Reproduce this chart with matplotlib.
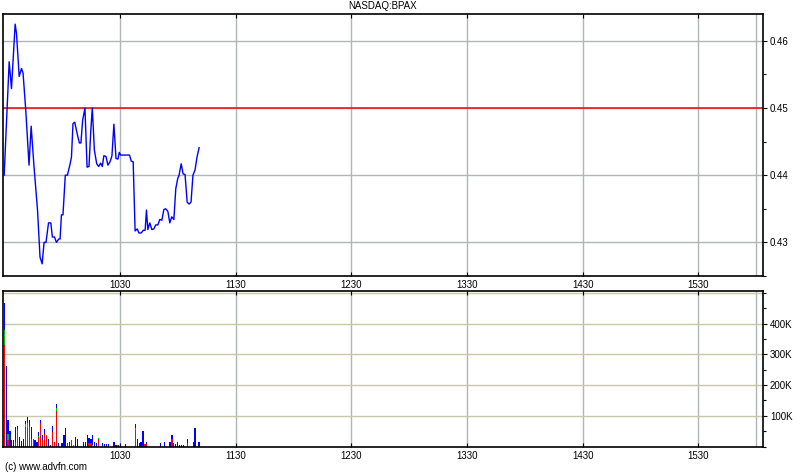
import matplotlib
matplotlib.use('Agg')
import matplotlib.pyplot as plt
import numpy as np
from matplotlib.ticker import FixedLocator, MultipleLocator, FuncFormatter

plt.rcParams['font.family'] = ['Liberation Sans', 'DejaVu Sans']

# ---------------- data ----------------
title = 'NASDAQ:BPAX'
prev_close = 0.45

# minutes after 09:30
price_minutes = [0.0, 2.6, 3.8, 5.7, 6.4, 7.8, 9.0, 9.8, 11.2, 12.9, 14.0, 15.5, 17.3, 18.6,
                 19.7, 20.7, 21.7, 23.0, 24.2, 25.0, 26.1, 27.1, 28.3, 29.0, 29.7, 30.5,
                 31.7, 32.8, 34.2, 34.9, 35.7, 36.6, 38.0, 39.0, 39.8, 40.7, 41.9, 43.0,
                 44.0, 44.9, 45.7, 46.8, 48.0, 49.0, 50.0, 50.9, 51.7, 52.8, 53.8, 54.9,
                 55.9, 56.9, 58.0, 59.0, 59.7, 60.4, 65.0, 65.9, 66.9, 67.9, 69.0, 69.9,
                 71.1, 72.1, 73.1, 73.8, 74.5, 75.5, 76.6, 77.6, 78.6, 79.7, 80.7, 81.8,
                 82.8, 83.8, 84.9, 85.9, 86.9, 88.0, 89.0, 90.0, 90.7, 91.8, 92.8, 93.8,
                 94.9, 95.9, 96.9, 97.9, 99.0, 100.0, 101.1]
price_values = [0.4400, 0.4569, 0.4529, 0.4625, 0.4611, 0.4547, 0.4559, 0.4552, 0.4497,
                0.4415, 0.4473, 0.4412, 0.4348, 0.4278, 0.4268, 0.4300, 0.4300, 0.4329,
                0.4329, 0.4308, 0.4308, 0.4300, 0.4305, 0.4305, 0.4341, 0.4341, 0.4400,
                0.4400, 0.4417, 0.4427, 0.4477, 0.4479, 0.4460, 0.4448, 0.4448, 0.4482,
                0.4500, 0.4412, 0.4413, 0.4465, 0.4500, 0.4437, 0.4417, 0.4413, 0.4418,
                0.4413, 0.4429, 0.4428, 0.4415, 0.4420, 0.4429, 0.4476, 0.4425, 0.4424,
                0.4434, 0.4430, 0.4430, 0.4421, 0.4420, 0.4317, 0.4320, 0.4314, 0.4314,
                0.4318, 0.4318, 0.4348, 0.4319, 0.4329, 0.4319, 0.4320, 0.4326, 0.4326,
                0.4334, 0.4333, 0.4349, 0.4350, 0.4346, 0.4329, 0.4338, 0.4334, 0.4380,
                0.4395, 0.4400, 0.4417, 0.4402, 0.4401, 0.4360, 0.4357, 0.4360, 0.4400,
                0.4408, 0.4427, 0.4441]

# volume per minute (thousands of shares), stacked red / green / blue
vol_minutes = [0, 1, 2, 3, 4, 5, 6, 7, 8, 9, 10, 11, 12, 13, 14, 15, 16, 17, 18, 19, 20,
               21, 22, 23, 24, 25, 26, 27, 28, 30, 31, 32, 33, 34, 35, 36, 37, 38, 41, 42,
               43, 44, 45, 46, 47, 48, 49, 51, 52, 53, 54, 57, 58, 59, 63, 68, 69, 70, 71,
               72, 73, 74, 81, 83, 86, 87, 88, 89, 90, 91, 92, 93, 95, 98, 99, 101]
vol_red = [332, 0, 20, 0, 0, 0, 15, 58, 0, 0, 0, 63, 65, 68, 25, 25, 0, 0, 30, 77, 20,
           41, 33, 0, 0, 47, 16, 117, 0, 0, 0, 0, 11, 6, 20, 0, 0, 0, 0, 0,
           0, 10, 12, 0, 0, 0, 24, 0, 0, 0, 0, 0, 0, 4, 0, 54, 0, 0, 0,
           0, 9, 7, 0, 0, 0, 25, 0, 0, 0, 0, 0, 0, 10, 0, 0, 0]
vol_green = [49, 0, 20, 0, 0, 0, 0, 0, 0, 0, 0, 11, 10, 0, 0, 0, 0, 0, 5, 0, 0,
             0, 6, 0, 0, 0, 0, 8, 0, 0, 0, 0, 0, 0, 0, 6, 0, 0, 0, 0,
             0, 0, 0, 4, 0, 0, 3, 0, 0, 0, 0, 0, 0, 0, 0, 5, 0, 0, 0,
             0, 0, 0, 0, 0, 0, 0, 0, 0, 0, 0, 0, 0, 0, 0, 0, 0]
vol_blue = [88, 261, 45, 52, 22, 20, 48, 10, 30, 17, 23, 8, 20, 20, 40, 0, 20, 15, 12, 11, 19,
            17, 0, 23, 5, 21, 0, 12, 13, 10, 36, 61, 0, 10, 0, 0, 30, 23, 14, 16,
            39, 17, 12, 32, 14, 11, 0, 11, 7, 7, 7, 14, 5, 0, 7, 13, 26, 11, 14,
            50, 0, 7, 10, 16, 14, 11, 11, 9, 14, 5, 5, 5, 13, 14, 60, 14]

tick_minutes = [60, 120, 180, 240, 300, 360]
tick_labels = ['1030', '1130', '1230', '1330', '1430', '1530']
close_minute = 390
x_min, x_max = -0.6, 393.5
price_ticks = [0.43, 0.44, 0.45, 0.46]
vol_ticks = [100, 200, 300, 400]
vol_grid = [100, 200, 300, 400, 500]

# ---------------- drawing ----------------
W, H = 800, 475
fig = plt.figure(figsize=(W / 100, H / 100), dpi=100)
fig.patch.set_facecolor('white')

ax1 = fig.add_axes([3 / W, 1 - 276 / H, 760 / W, 262 / H])
ax2 = fig.add_axes([3 / W, 1 - 446.5 / H, 760 / W, 155.5 / H])

grid_c = '#b0b6b6'
vgrid_c = '#c8c8a8'

for ax in (ax1, ax2):
    ax.set_xlim(x_min, x_max)
    for m in tick_minutes + [close_minute]:
        ax.axvline(m, color=grid_c, lw=1, zorder=0)
    ax.set_xticks(tick_minutes)
    ax.set_xticklabels(tick_labels)
    ax.tick_params(axis='x', direction='in', length=3, width=0.8, labelsize=7,
                   pad=3, top=True, bottom=True, colors='black')
    ax.yaxis.tick_right()
    ax.tick_params(axis='y', which='both', direction='out', width=0.8, labelsize=7,
                   pad=2, left=False, right=True)
    ax.tick_params(axis='y', which='major', length=3)
    ax.tick_params(axis='y', which='minor', length=2)
    for s in ax.spines.values():
        s.set_color('black')
        s.set_linewidth(1.2)

# price panel
ax1.set_ylim(0.42499, 0.46401)
for p in price_ticks:
    ax1.axhline(p, color=grid_c, lw=1, zorder=0)
ax1.axhline(prev_close, color='#ff0000', lw=1.1, zorder=2)
ax1.plot(price_minutes, price_values, color='#0000ff', lw=1.0, zorder=3)
ax1.yaxis.set_major_locator(FixedLocator(price_ticks))
ax1.yaxis.set_minor_locator(MultipleLocator(0.005))
ax1.yaxis.set_major_formatter(FuncFormatter(lambda v, p: f'{v:.2f}'))
ax1.text(0.5, 1.01, title, transform=ax1.transAxes, ha='center', va='bottom', fontsize=7)

# volume panel
vm = np.array(vol_minutes, dtype=float)
vr = np.array(vol_red, dtype=float) * 1000
vg = np.array(vol_green, dtype=float) * 1000
vb = np.array(vol_blue, dtype=float) * 1000
ax2.set_ylim(0, 507000)
for v in vol_grid:
    ax2.axhline(v * 1000, color=vgrid_c, lw=1, zorder=0)
bw = 0.6
for vals, base, col in ((vr, 0, '#ff0000'), (vg, vr, '#00c000'), (vb, vr + vg, '#0000ff')):
    bars = ax2.bar(vm, vals, width=bw, bottom=base, color=col, align='center',
                   zorder=2, linewidth=0)
    for b in bars:
        b.set_antialiased(False)
ax2.yaxis.set_major_locator(FixedLocator([v * 1000 for v in vol_ticks]))
ax2.yaxis.set_minor_locator(MultipleLocator(50000))
ax2.yaxis.set_major_formatter(FuncFormatter(lambda v, p: f'{int(v / 1000)}K'))

fig.text(5 / W, 1 - 467 / H, '(c) www.advfn.com', ha='left', va='center', fontsize=7)

fig.savefig('out.png', dpi=100, facecolor='white')
